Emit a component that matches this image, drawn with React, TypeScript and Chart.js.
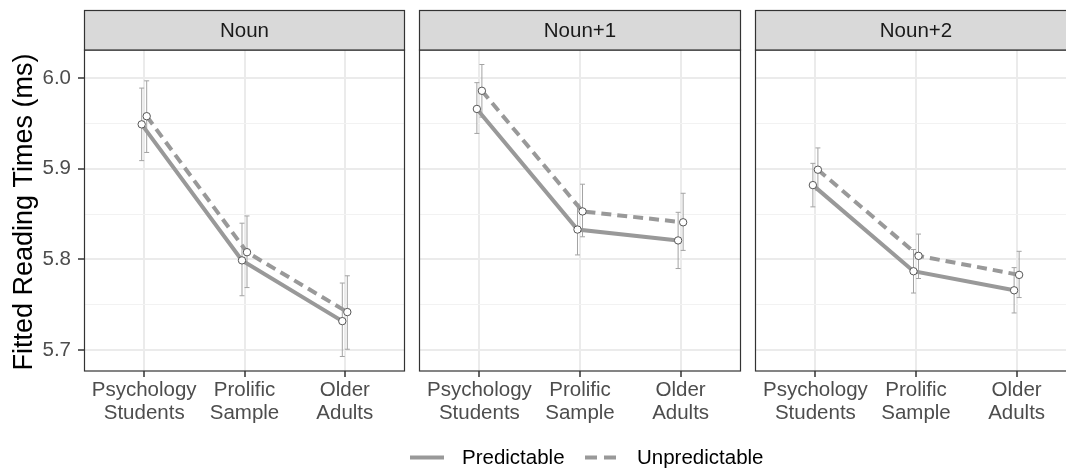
import React, { useEffect, useRef } from "react";
import { Chart, registerables } from "chart.js";
Chart.register(...registerables);

// ---------- data ----------
const categories = ["Psychology Students", "Prolific Sample", "Older Adults"];
const panels = ["Noun", "Noun+1", "Noun+2"];
const seriesNames = ["Predictable", "Unpredictable"];
const yTickValues = [5.7, 5.75, 5.8, 5.85, 5.9, 5.95, 6.0];

const nounPred = [5.949, 5.799, 5.732];
const nounPredLo = [5.909, 5.76, 5.693];
const nounPredHi = [5.989, 5.84, 5.774];
const nounUnpred = [5.958, 5.808, 5.742];
const nounUnpredLo = [5.918, 5.769, 5.701];
const nounUnpredHi = [5.997, 5.848, 5.782];

const noun1Pred = [5.966, 5.833, 5.821];
const noun1PredLo = [5.939, 5.805, 5.79];
const noun1PredHi = [5.995, 5.861, 5.852];
const noun1Unpred = [5.986, 5.853, 5.841];
const noun1UnpredLo = [5.957, 5.825, 5.81];
const noun1UnpredHi = [6.015, 5.883, 5.873];

const noun2Pred = [5.882, 5.787, 5.766];
const noun2PredLo = [5.858, 5.763, 5.741];
const noun2PredHi = [5.906, 5.811, 5.791];
const noun2Unpred = [5.899, 5.804, 5.783];
const noun2UnpredLo = [5.876, 5.779, 5.758];
const noun2UnpredHi = [5.923, 5.828, 5.809];

const panelSeries = [
  { pred: nounPred, predLo: nounPredLo, predHi: nounPredHi, un: nounUnpred, unLo: nounUnpredLo, unHi: nounUnpredHi },
  { pred: noun1Pred, predLo: noun1PredLo, predHi: noun1PredHi, un: noun1Unpred, unLo: noun1UnpredLo, unHi: noun1UnpredHi },
  { pred: noun2Pred, predLo: noun2PredLo, predHi: noun2PredHi, un: noun2Unpred, unLo: noun2UnpredLo, unHi: noun2UnpredHi },
];

// ---------- style ----------
const FONT = "'Liberation Sans', Arial, sans-serif";
const LINE = "#999999";
const ERR = "#a3a3a3";
const DODGE = 0.025;
const Y_MIN = 5.677;
const Y_MAX = 6.031;

const layouts = [
  { left: 0, width: 410, padLeft: 0, padRight: 5, showY: true },
  { left: 410, width: 336, padLeft: 9, padRight: 5, showY: false },
  { left: 746, width: 336, padLeft: 9, padRight: 5, showY: false },
];

function makeChart(canvas: HTMLCanvasElement, idx: number) {
  const s = panelSeries[idx];
  const lay = layouts[idx];
  const pts = (vals: number[], off: number) => vals.map((v, i) => ({ x: i + off, y: v }));
  const errs = [
    { off: -DODGE, lo: s.predLo, hi: s.predHi },
    { off: DODGE, lo: s.unLo, hi: s.unHi },
  ];

  const facetPlugin = {
    id: "facet" + idx,
    beforeDatasetsDraw(chart: any) {
      const ctx = chart.ctx;
      const xs = chart.scales.x;
      const ys = chart.scales.y;
      ctx.save();
      ctx.strokeStyle = ERR;
      ctx.lineWidth = 1;
      errs.forEach((e) => {
        e.lo.forEach((lo, i) => {
          const x = xs.getPixelForValue(i + e.off);
          const y1 = ys.getPixelForValue(lo);
          const y2 = ys.getPixelForValue(e.hi[i]);
          ctx.beginPath();
          ctx.moveTo(x, y1);
          ctx.lineTo(x, y2);
          ctx.moveTo(x - 2.5, y1);
          ctx.lineTo(x + 2.5, y1);
          ctx.moveTo(x - 2.5, y2);
          ctx.lineTo(x + 2.5, y2);
          ctx.stroke();
        });
      });
      ctx.restore();
    },
    afterDraw(chart: any) {
      const ctx = chart.ctx;
      const a = chart.chartArea;
      ctx.save();
      // panel border
      ctx.strokeStyle = "#333333";
      ctx.lineWidth = 1.2;
      ctx.strokeRect(a.left + 0.5, a.top, a.right - a.left - 1, a.bottom - a.top);
      // strip
      const sTop = 10;
      ctx.fillStyle = "#d9d9d9";
      ctx.fillRect(a.left, sTop, a.right - a.left, a.top - sTop);
      ctx.strokeRect(a.left + 0.5, sTop + 0.5, a.right - a.left - 1, a.top - sTop - 0.5);
      ctx.fillStyle = "#1a1a1a";
      ctx.font = `20.5px ${FONT}`;
      ctx.textAlign = "center";
      ctx.textBaseline = "middle";
      ctx.fillText(panels[idx], (a.left + a.right) / 2, (sTop + a.top) / 2 + 1);
      if (lay.showY) {
        ctx.translate(32, 212);
        ctx.rotate(-Math.PI / 2);
        ctx.font = `27px ${FONT}`;
        ctx.fillStyle = "#000000";
        ctx.textBaseline = "alphabetic";
        ctx.fillText("Fitted Reading Times (ms)", 0, 0);
      }
      ctx.restore();
    },
  };

  const isMajor = (v: number) => Math.abs(v * 10 - Math.round(v * 10)) < 1e-6;

  return new Chart(canvas, {
    type: "line",
    data: {
      datasets: [
        {
          label: seriesNames[0] + " points",
          data: pts(s.pred, -DODGE),
          showLine: false,
          pointRadius: 3.7,
          pointBackgroundColor: "#ffffff",
          pointBorderColor: "#555555",
          pointBorderWidth: 1,
          order: 0,
        },
        {
          label: seriesNames[1] + " points",
          data: pts(s.un, DODGE),
          showLine: false,
          pointRadius: 3.7,
          pointBackgroundColor: "#ffffff",
          pointBorderColor: "#555555",
          pointBorderWidth: 1,
          order: 0,
        },
        {
          label: seriesNames[0],
          data: pts(s.pred, -DODGE),
          borderColor: LINE,
          borderWidth: 4,
          pointRadius: 0,
          tension: 0,
          order: 2,
        },
        {
          label: seriesNames[1],
          data: pts(s.un, DODGE),
          borderColor: LINE,
          borderWidth: 4,
          borderDash: [10, 6],
          pointRadius: 0,
          tension: 0,
          order: 1,
        },
      ],
    },
    options: {
      animation: false,
      responsive: false,
      events: [],
      layout: { padding: { top: 50, left: lay.padLeft, right: lay.padRight, bottom: 0 } },
      plugins: { legend: { display: false }, tooltip: { enabled: false } },
      scales: {
        x: {
          type: "linear",
          min: -0.6,
          max: 2.6,
          afterBuildTicks: (sc: any) => {
            sc.ticks = categories.map((_, i) => ({ value: i }));
          },
          afterFit: (sc: any) => {
            sc.height = 97;
            sc.paddingLeft = 0;
            sc.paddingRight = 0;
          },
          ticks: {
            callback: (v: any) => categories[Math.round(Number(v))].split(" "),
            font: { family: FONT, size: 20.5, lineHeight: 1.12 },
            color: "#4d4d4d",
            padding: 2,
            maxRotation: 0,
            autoSkip: false,
          },
          grid: {
            color: "#ebebeb",
            lineWidth: 2,
            tickColor: "#333333",
            tickLength: 6,
            tickWidth: 1.5,
          },
          border: { display: false },
        },
        y: {
          type: "linear",
          min: Y_MIN,
          max: Y_MAX,
          afterBuildTicks: (sc: any) => {
            sc.ticks = yTickValues.map((v) => ({ value: v }));
          },
          afterFit: (sc: any) => {
            sc.width = lay.showY ? 84 : 0;
            sc.paddingTop = 0;
            sc.paddingBottom = 0;
          },
          ticks: {
            display: lay.showY,
            callback: (v: any) => (isMajor(Number(v)) ? Number(v).toFixed(1) : ""),
            font: { family: FONT, size: 20.5 },
            color: "#4d4d4d",
            padding: 7,
          },
          grid: {
            color: (c: any) => (c.tick && isMajor(c.tick.value) ? "#ebebeb" : "#f2f2f2"),
            lineWidth: (c: any) => (c.tick && isMajor(c.tick.value) ? 2 : 1),
            drawTicks: lay.showY,
            tickLength: 6,
            tickWidth: 1.5,
            tickColor: (c: any) => (c.tick && isMajor(c.tick.value) ? "#333333" : "rgba(0,0,0,0)"),
          },
          border: { display: false },
        },
      },
    },
    plugins: [facetPlugin],
  } as any);
}

function Panel({ idx }: { idx: number }) {
  const ref = useRef<HTMLCanvasElement>(null);
  useEffect(() => {
    if (!ref.current) return;
    const ch = makeChart(ref.current, idx);
    return () => ch.destroy();
  }, [idx]);
  const lay = layouts[idx];
  return (
    <canvas
      ref={ref}
      width={lay.width}
      height={468}
      style={{ position: "absolute", left: lay.left, top: 0, width: lay.width, height: 468 }}
    />
  );
}

export default function App() {
  const textStyle: React.CSSProperties = {
    position: "absolute",
    top: 445,
    fontFamily: FONT,
    fontSize: "20.5px",
    lineHeight: "24px",
    color: "#000",
    whiteSpace: "nowrap",
  };
  return (
    <div
      style={{
        position: "fixed",
        left: 0,
        top: 0,
        width: 1066,
        height: 468,
        overflow: "hidden",
        background: "#ffffff",
      }}
    >
      {panels.map((_, i) => (
        <Panel key={i} idx={i} />
      ))}
      <svg width={1066} height={468} style={{ position: "absolute", left: 0, top: 0, pointerEvents: "none" }}>
        <line x1={410} y1={457.5} x2={444} y2={457.5} stroke={LINE} strokeWidth={4} />
        <line x1={585} y1={457.5} x2={616} y2={457.5} stroke={LINE} strokeWidth={4} strokeDasharray="12 7" />
      </svg>
      <div style={{ ...textStyle, left: 462 }}>{seriesNames[0]}</div>
      <div style={{ ...textStyle, left: 637 }}>{seriesNames[1]}</div>
    </div>
  );
}
